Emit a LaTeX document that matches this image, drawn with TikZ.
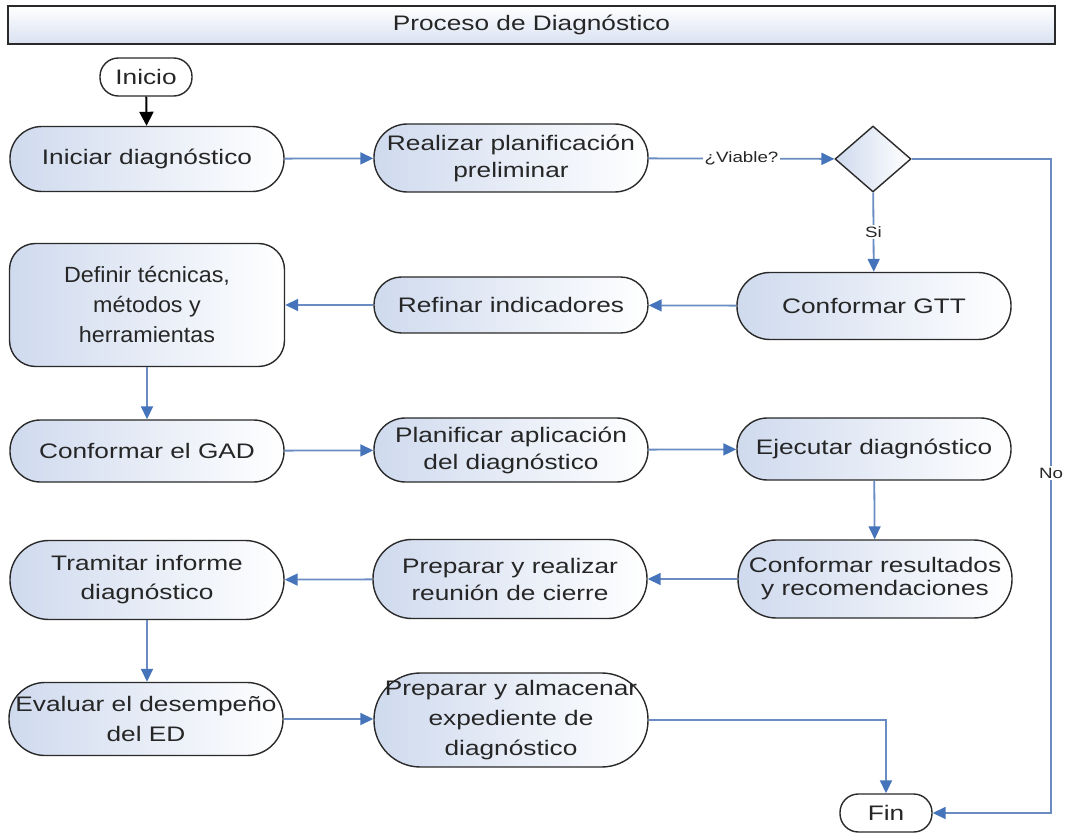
\documentclass[tikz,border=0pt]{standalone}
\usepackage{fontspec}
\setmainfont{Liberation Sans}[FakeStretch=1.25]
\newfontfamily\narrowface{Liberation Sans}[FakeStretch=1.06]
\usetikzlibrary{shapes.geometric,arrows.meta}

\definecolor{edgeblue}{HTML}{6A8CC2}
\definecolor{tipblue}{HTML}{4674BA}
\definecolor{shadeblue}{HTML}{CFDAEE}
\definecolor{inkgrey}{HTML}{262626}
\definecolor{rimgrey}{HTML}{2A2A2A}

\tikzset{
  txt/.style={text=inkgrey, font=\fontsize{21}{28}\selectfont},
  shaded/.style={draw=rimgrey, line width=1.4pt, left color=shadeblue, right color=white},
  % stadium-shaped activity box; argument = height in pt
  pill/.style={rectangle, shaded, txt, align=center, inner sep=0pt,
    minimum width=274pt, minimum height=#1*1pt, rounded corners=#1*0.5pt-0.6pt},
  roundbox/.style={rectangle, shaded, txt, align=center, inner sep=0pt,
    minimum width=275pt, minimum height=123pt, rounded corners=26pt},
  terminal/.style={rectangle, draw=rimgrey, line width=1.4pt, fill=white, txt,
    inner sep=0pt, minimum width=92pt, minimum height=38pt, rounded corners=18.4pt},
  decision/.style={diamond, shaded, inner sep=0pt, minimum width=76pt, minimum height=66pt},
  banner/.style={rectangle, draw=rimgrey, line width=1.4pt, top color=white,
    bottom color=shadeblue!80, txt, minimum width=1047pt, minimum height=38pt},
  flow/.style={draw=edgeblue, line width=1.8pt,
    -{Triangle[length=13pt,width=12pt,color=tipblue]}},
  startflow/.style={draw=black, line width=2pt,
    -{Triangle[length=14pt,width=14pt,color=black]}},
  lbl/.style={fill=white, inner sep=1.5pt, text=inkgrey, font=\fontsize{15}{18}\selectfont}
}

\begin{document}
\begin{tikzpicture}[x=1pt,y=-1pt]
\useasboundingbox (0,0) rectangle (1069,834);

\node[banner] (head) at (531.5,25) {Proceso de Diagnóstico};

% activities
\node[terminal] (inicio) at (146,77) {Inicio};
\node[pill=65] (iniciar) at (147,159) {Iniciar diagnóstico};
\node[pill=68, font=\fontsize{21}{27}\selectfont] (realizar) at (511,158) {Realizar planificación\\preliminar};
\node[decision] (viable) at (873,159) {};
\node[pill=67] (gtt) at (874,306) {Conformar GTT};
\node[pill=56] (refinar) at (511,305) {Refinar indicadores};
\node[roundbox, font=\narrowface\fontsize{22}{30}\selectfont] (definir) at (147,305) {Definir técnicas,\\métodos y\\herramientas};
\node[pill=62] (gad) at (147,451) {Conformar el GAD};
\node[pill=64, font=\fontsize{21}{27}\selectfont] (planificar) at (511,450) {Planificar aplicación\\del diagnóstico};
\node[pill=62] (ejecutar) at (874,449) {Ejecutar diagnóstico};
\node[pill=78, font=\fontsize{21}{23}\selectfont] (resultados) at (875,579) {Conformar resultados\\y recomendaciones};
\node[pill=79, font=\fontsize{21}{27}\selectfont] (reunion) at (510,579) {Preparar y realizar\\reunión de cierre};
\node[pill=79, font=\fontsize{21}{29}\selectfont] (tramitar) at (147,580) {Tramitar informe\\diagnóstico};
\node[pill=73, font=\fontsize{21}{30}\selectfont] (evaluar) at (146,719) {Evaluar el desempeño\\del ED};
\node[pill=94, font=\fontsize{21}{30}\selectfont] (almacenar) at (511,720) {Preparar y almacenar\\expediente de\\diagnóstico};
\node[terminal] (fin) at (886,813) {Fin};

\coordinate (nobend) at (1051,159);

% connectors
\draw[startflow] (inicio) -- (iniciar);
\draw[flow] (iniciar) -- (realizar);
\draw[flow] (realizar) -- node[lbl] {¿Viable?} (viable);
\draw[flow] (viable) -- node[lbl] {Si} (gtt);
\draw[flow] (viable.east) -- (nobend) -- node[lbl, pos=0.48] {No} (nobend |- fin.east) -- (fin.east);
\draw[flow] (gtt) -- (refinar);
\draw[flow] (refinar) -- (definir);
\draw[flow] (definir) -- (gad);
\draw[flow] (gad) -- (planificar);
\draw[flow] (planificar) -- (ejecutar);
\draw[flow] (ejecutar) -- (resultados);
\draw[flow] (resultados) -- (reunion);
\draw[flow] (reunion) -- (tramitar);
\draw[flow] (tramitar.south) -- (tramitar.south |- evaluar.north);
\draw[flow] (evaluar.east) -- (evaluar.east -| almacenar.west);
\draw[flow] (almacenar.east) -| (fin.north);
\end{tikzpicture}
\end{document}
